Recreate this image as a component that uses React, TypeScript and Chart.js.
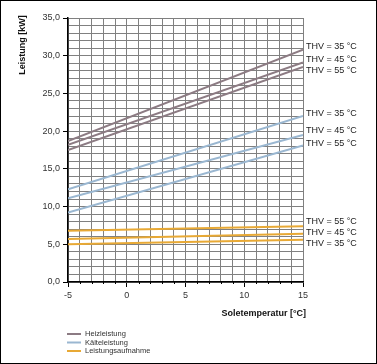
import React, { useEffect, useRef } from "react";
import { Chart, registerables } from "chart.js";

Chart.register(...registerables);

const temps = [-5, 15];
const heizThv35 = [18.7, 30.8];
const heizThv45 = [18.2, 29.1];
const heizThv55 = [17.5, 28.5];
const kaelteThv35 = [12.3, 22.0];
const kaelteThv45 = [11.1, 19.5];
const kaelteThv55 = [9.2, 18.1];
const aufnThv35 = [5.0, 5.6];
const aufnThv45 = [5.7, 6.4];
const aufnThv55 = [6.8, 7.4];

const thvLabels = ["THV = 35 °C", "THV = 45 °C", "THV = 55 °C"];
// label anchor values (kW) at right end
const heizLabelY = [31.2, 29.5, 28.1];
const kaelteLabelY = [22.3, 20.1, 18.4];
const aufnLabelY = [5.1, 6.6, 8.0];

const groupNames = ["Heizleistung", "Kälteleistung", "Leistungsaufnahme"];
const groupColors = ["#8c7b83", "#9ab7d1", "#e8a935"];

const yTitle = "Leistung [kW]";
const xTitle = "Soletemperatur [°C]";

const FONT = "'Liberation Sans', Arial, sans-serif";

const fmt = (v: number) => v.toFixed(1).replace(".", ",");

export default function App() {
  const ref = useRef<HTMLCanvasElement | null>(null);

  useEffect(() => {
    const canvas = ref.current;
    if (!canvas) return;

    const mk = (vals: number[], gi: number, label: string, ly: number) => ({
      label,
      data: temps.map((t, i) => ({ x: t, y: vals[i] })),
      borderColor: groupColors[gi],
      borderWidth: 2,
      pointRadius: 0,
      fill: false,
      tension: 0,
      labelY: ly,
    });

    const datasets: any[] = [
      mk(heizThv35, 0, thvLabels[0], heizLabelY[0]),
      mk(heizThv45, 0, thvLabels[1], heizLabelY[1]),
      mk(heizThv55, 0, thvLabels[2], heizLabelY[2]),
      mk(kaelteThv35, 1, thvLabels[0], kaelteLabelY[0]),
      mk(kaelteThv45, 1, thvLabels[1], kaelteLabelY[1]),
      mk(kaelteThv55, 1, thvLabels[2], kaelteLabelY[2]),
      mk(aufnThv35, 2, thvLabels[0], aufnLabelY[0]),
      mk(aufnThv45, 2, thvLabels[1], aufnLabelY[1]),
      mk(aufnThv55, 2, thvLabels[2], aufnLabelY[2]),
    ];

    const decor = {
      id: "decor",
      afterDraw(chart: any) {
        const ctx = chart.ctx;
        const xs = chart.scales.x;
        const ys = chart.scales.y;
        const area = chart.chartArea;
        ctx.save();
        // minor ticks on x axis
        ctx.strokeStyle = "#000";
        ctx.lineWidth = 1;
        for (let v = -5; v <= 15; v++) {
          if (v % 5 === 0) continue;
          const px = Math.round(xs.getPixelForValue(v)) + 0.5;
          ctx.beginPath();
          ctx.moveTo(px, area.bottom);
          ctx.lineTo(px, area.bottom + 2);
          ctx.stroke();
        }
        // THV labels
        ctx.fillStyle = "#222";
        ctx.font = `9px ${FONT}`;
        ctx.textAlign = "left";
        ctx.textBaseline = "middle";
        chart.data.datasets.forEach((ds: any) => {
          ctx.fillText(ds.label, area.right + 3, ys.getPixelForValue(ds.labelY));
        });
        // y title
        ctx.save();
        ctx.translate(23, 45);
        ctx.rotate(-Math.PI / 2);
        ctx.font = `bold 9px ${FONT}`;
        ctx.textAlign = "center";
        ctx.textBaseline = "middle";
        ctx.fillStyle = "#111";
        ctx.fillText(yTitle, 0, 0);
        ctx.restore();
        // x title
        ctx.font = `bold 9px ${FONT}`;
        ctx.textAlign = "right";
        ctx.textBaseline = "middle";
        ctx.fillStyle = "#111";
        ctx.fillText(xTitle, area.right + 3, 314);
        // legend
        ctx.font = `7.5px ${FONT}`;
        ctx.textAlign = "left";
        groupNames.forEach((n, i) => {
          const y = 334 + i * 8.5;
          ctx.strokeStyle = groupColors[i];
          ctx.lineWidth = 2;
          ctx.beginPath();
          ctx.moveTo(67, y);
          ctx.lineTo(81, y);
          ctx.stroke();
          ctx.fillStyle = "#333";
          ctx.fillText(n, 85, y);
        });
        // outer frame
        ctx.strokeStyle = "#000";
        ctx.lineWidth = 1;
        ctx.strokeRect(0.5, 0.5, chart.width - 1, chart.height - 1);
        ctx.restore();
      },
    };

    const chart = new Chart(canvas, {
      type: "line",
      data: { datasets },
      plugins: [decor],
      options: {
        animation: false,
        responsive: false,
        devicePixelRatio: 1,
        layout: { padding: { top: 18, right: 74, bottom: 0, left: 0 } },
        plugins: { legend: { display: false }, tooltip: { enabled: false } },
        scales: {
          x: {
            type: "linear",
            min: -5,
            max: 15,
            afterFit: (s: any) => {
              s.height = 82;
            },
            ticks: {
              stepSize: 1,
              autoSkip: false,
              maxRotation: 0,
              padding: 3,
              color: "#333",
              font: { family: FONT, size: 9 },
              callback: (v: any) => (Number(v) % 5 === 0 ? String(v) : ""),
            },
            grid: {
              color: "#808080",
              lineWidth: 1,
              tickLength: 5,
              tickColor: (c: any) =>
                c.tick && Number(c.tick.value) % 5 === 0 ? "#000" : "rgba(0,0,0,0)",
            },
            border: { color: "#000", width: 1.5 },
          },
          y: {
            type: "linear",
            min: 0,
            max: 35,
            afterFit: (s: any) => {
              s.width = 68;
            },
            ticks: {
              stepSize: 1,
              autoSkip: false,
              padding: 3,
              color: "#333",
              font: { family: FONT, size: 9 },
              callback: (v: any) => (Number(v) % 5 === 0 ? fmt(Number(v)) : ""),
            },
            grid: {
              color: "#808080",
              lineWidth: 1,
              tickLength: 5,
              tickColor: (c: any) =>
                c.tick && Number(c.tick.value) % 5 === 0 ? "#000" : "rgba(0,0,0,0)",
            },
            border: { color: "#000", width: 1.5 },
          },
        },
      },
    });

    return () => chart.destroy();
  }, []);

  return (
    <div style={{ position: "fixed", left: 0, top: 0, width: 377, height: 364, background: "#fff" }}>
      <canvas ref={ref} width={377} height={364} style={{ display: "block", width: 377, height: 364 }} />
    </div>
  );
}
